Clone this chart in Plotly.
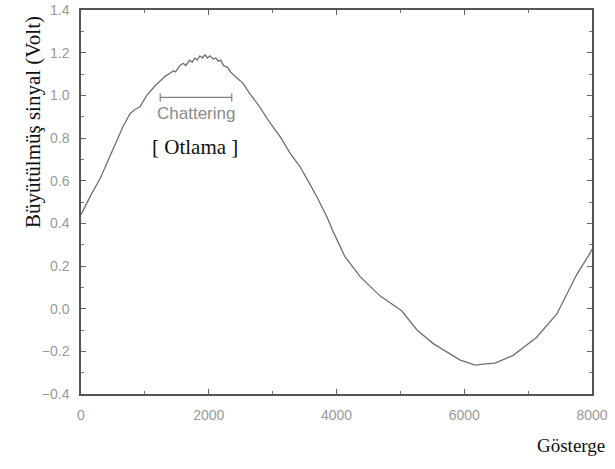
import plotly.graph_objects as go

# Data
x_vals = [0, 150, 300, 500, 660, 770, 850, 920, 1030, 1160, 1240, 1320, 1400, 1450, 1480,
          1550, 1600, 1640, 1700, 1740, 1780, 1820, 1860, 1900, 1940, 1980, 2020, 2070, 2110,
          2150, 2190, 2230, 2300, 2340, 2390, 2460, 2540, 2650, 2800, 2950, 3120, 3270, 3430,
          3590, 3700, 3850, 3950, 4130, 4370, 4680, 5020, 5260, 5520, 5930, 6170, 6300, 6480,
          6760, 7130, 7450, 7760, 7970, 8000]
y_vals = [0.44, 0.53, 0.61, 0.745, 0.855, 0.915, 0.935, 0.945, 1.0, 1.045, 1.07, 1.09, 1.105, 1.115, 1.11,
          1.14, 1.15, 1.14, 1.165, 1.155, 1.175, 1.165, 1.185, 1.175, 1.19, 1.175, 1.185, 1.17, 1.175,
          1.16, 1.165, 1.14, 1.13, 1.11, 1.095, 1.075, 1.055, 1.005, 0.945, 0.875, 0.805, 0.73, 0.665,
          0.58, 0.52, 0.43, 0.36, 0.245, 0.15, 0.06, -0.01, -0.10, -0.165, -0.24, -0.265, -0.26, -0.255,
          -0.22, -0.135, -0.025, 0.16, 0.26, 0.28]

x_ticks = [0, 2000, 4000, 6000, 8000]
y_ticks = [-0.4, -0.2, 0.0, 0.2, 0.4, 0.6, 0.8, 1.0, 1.2, 1.4]
y_tick_labels = ["\u22120.4", "\u22120.2", "0.0", "0.2", "0.4", "0.6", "0.8", "1.0", "1.2", "1.4"]

chatter_x = [1240, 2360]
chatter_y = [0.99, 0.99]

fig = go.Figure()
fig.add_trace(go.Scatter(x=x_vals, y=y_vals, mode="lines",
                         line=dict(color="#6f6f6f", width=1.3), showlegend=False))
fig.add_trace(go.Scatter(x=chatter_x, y=chatter_y, mode="lines+markers",
                         line=dict(color="#808080", width=1.2),
                         marker=dict(symbol="line-ns", size=6, line=dict(color="#808080", width=1.2)),
                         showlegend=False))

axis_common = dict(showline=True, linecolor="#555555", linewidth=1.5, mirror="ticks",
                   ticks="inside", ticklen=5, tickwidth=1.2, tickcolor="#666666",
                   showgrid=False, zeroline=False, ticklabeloverflow="allow", automargin=False,
                   tickfont=dict(family="Liberation Sans, Arial", size=14, color="#999999"))

fig.update_xaxes(range=[0, 8000], tickvals=x_ticks, ticktext=[str(v) for v in x_ticks],
                 minor=dict(ticks="inside", ticklen=3, dtick=1000, tickcolor="#777777"),
                 ticklabelstandoff=7, **axis_common)
fig.update_yaxes(range=[-0.4, 1.4], tickvals=y_ticks, ticktext=y_tick_labels,
                 minor=dict(ticks="inside", ticklen=3, dtick=0.1, tickcolor="#777777"),
                 ticklabelstandoff=7, **axis_common)

# pixel-placed text annotations (converted to paper coordinates below)
L, R, T, B = 81, 23, 10, 75
W, H = 615, 469
pw, ph = W - L - R, H - T - B

texts = [
    dict(px=196, py=114, text="Chattering", angle=0,
         font=dict(family="Liberation Sans, Arial", size=17, color="#8a8a8a")),
    dict(px=195, py=147, text="[ Otlama ]", angle=0,
         font=dict(family="Liberation Serif, Times New Roman", size=21, color="#111111")),
    dict(px=33, py=122, text="Büyütülmüş sinyal (Volt)", angle=-90,
         font=dict(family="Liberation Serif, Times New Roman", size=21, color="#111111")),
    dict(px=571, py=445, text="Gösterge", angle=0,
         font=dict(family="Liberation Serif, Times New Roman", size=19, color="#111111")),
]
for t in texts:
    fig.add_annotation(x=(t["px"] - L) / pw, y=1 - (t["py"] - T) / ph,
                       xref="paper", yref="paper", xanchor="center", yanchor="middle",
                       text=t["text"], textangle=t["angle"], showarrow=False, font=t["font"])

fig.update_layout(width=W, height=H, margin=dict(l=L, r=R, t=T, b=B),
                  plot_bgcolor="white", paper_bgcolor="white")

fig.write_html("out.html")
